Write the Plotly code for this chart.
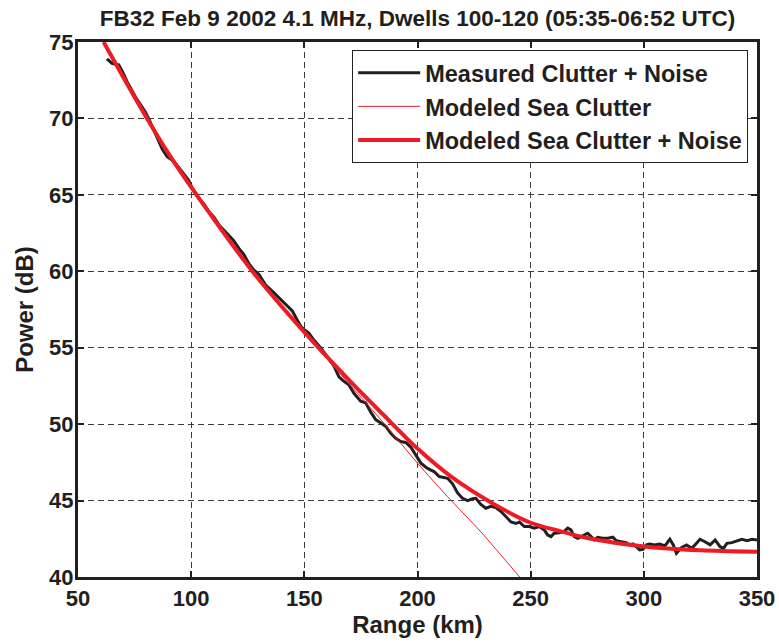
import plotly.graph_objects as go

# Measured clutter + noise power (range in km, power in dB)
measured_range = [
    62.8, 65.0, 68.0, 69.5, 71.7, 73.5, 75.4, 77.6, 79.8, 81.5,
    83.5, 85.0, 87.2, 89.4, 92.3, 94.5, 96.7, 98.9, 100.4, 101.9,
    103.4, 105.6, 107.8, 110.0, 112.2, 114.4, 116.6, 118.8, 121.1, 123.3,
    125.5, 127.5, 129.9, 132.9, 135.8, 138.8, 141.7, 144.7, 146.9, 148.4,
    149.8, 152.0, 154.2, 157.2, 160.2, 163.1, 165.3, 167.5, 169.7, 172.0,
    174.9, 177.1, 179.3, 181.5, 183.8, 186.0, 188.2, 190.4, 192.6, 194.8,
    197.0, 199.2, 201.5, 204.4, 207.3, 209.6, 213.3, 215.5, 217.7, 219.9,
    222.1, 224.3, 225.8, 228.0, 230.2, 232.4, 234.6, 236.9, 239.1, 241.3,
    243.5, 245.0, 247.2, 249.4, 251.6, 253.8, 256.0, 257.5, 259.0, 260.4,
    262.7, 264.9, 266.4, 267.8, 269.3, 270.8, 272.3, 275.2, 276.7, 278.1,
    279.6, 281.8, 284.1, 286.3, 287.8, 290.0, 292.2, 293.7, 295.2, 296.7,
    298.1, 299.6, 301.1, 302.6, 304.8, 307.0, 309.3, 311.5, 313.0, 314.4,
    316.7, 318.9, 321.1, 322.6, 324.8, 327.0, 329.3, 331.5, 333.7, 335.2,
    336.7, 338.9, 341.1, 343.3, 345.6, 347.8, 350.0,
]
measured_power = [
    73.9, 73.6, 73.5, 73.1, 72.4, 71.9, 71.4, 70.9, 70.4, 69.9,
    69.2, 68.7, 68.0, 67.5, 67.2, 66.8, 66.4, 65.95, 65.45, 65.1,
    64.75, 64.4, 63.9, 63.55, 63.05, 62.7, 62.35, 62.0, 61.5, 61.1,
    60.5, 60.1, 59.8, 59.1, 58.7, 58.25, 57.8, 57.4, 56.8, 56.4,
    56.2, 55.96, 55.5, 55.0, 54.4, 53.8, 53.1, 52.8, 52.57, 52.0,
    51.5, 51.4, 50.8, 50.3, 50.07, 49.85, 49.4, 49.08, 48.86, 48.8,
    48.5, 48.0, 47.45, 47.1, 46.9, 46.57, 46.46, 46.1, 45.5, 45.15,
    45.0, 45.12, 45.15, 44.75, 44.5, 44.62, 44.55, 44.28, 43.95, 43.6,
    43.5, 43.6, 43.3, 43.3, 43.2, 43.3, 43.08, 42.75, 42.64, 42.86,
    42.9, 43.0, 43.2, 43.08, 42.64, 42.53, 42.64, 42.86, 42.64, 42.42,
    42.6, 42.53, 42.53, 42.6, 42.38, 42.31, 42.25, 42.1, 42.16, 41.98,
    41.77, 41.81, 42.1, 42.16, 42.1, 42.16, 42.03, 42.47, 42.1, 41.55,
    41.94, 42.1, 41.88, 42.1, 42.47, 42.31, 42.1, 42.42, 41.98, 41.88,
    42.2, 42.25, 42.38, 42.47, 42.38, 42.47, 42.42,
]

# Modeled sea clutter alone
sea_range = [61.3, 70, 80.5, 90, 100, 113, 126.5, 140, 155, 170,
             185.5, 200, 213.3, 228, 246]
sea_power = [75.0, 72.7, 70.0, 67.7, 65.5, 62.8, 60.1, 57.6, 55.1, 52.6,
             50.0, 47.45, 45.25, 42.95, 39.85]

# Modeled sea clutter + noise
total_range = [61.3, 70, 80.5, 90, 100, 113, 126.5, 140, 155, 170,
               185, 200, 215, 234, 250, 263, 275, 300, 325, 350]
total_power = [75.0, 72.7, 70.0, 67.7, 65.5, 62.8, 60.1, 57.7, 55.2, 52.85,
               50.6, 48.4, 46.55, 44.75, 43.55, 43.0, 42.55, 42.0, 41.75, 41.65]

x_ticks = [50, 100, 150, 200, 250, 300, 350]
y_ticks = [40, 45, 50, 55, 60, 65, 70, 75]

FONT = "Liberation Sans, Arial, Helvetica, sans-serif"
INK = "#231F20"
RED = "#ED1C24"

fig = go.Figure()
fig.add_trace(go.Scatter(
    x=measured_range, y=measured_power, mode="lines",
    name="Measured Clutter + Noise",
    line=dict(color=INK, width=3),
))
fig.add_trace(go.Scatter(
    x=sea_range, y=sea_power, mode="lines",
    name="Modeled Sea Clutter",
    line=dict(color=RED, width=1, shape="spline", smoothing=0.8),
))
fig.add_trace(go.Scatter(
    x=total_range, y=total_power, mode="lines",
    name="Modeled Sea Clutter + Noise",
    line=dict(color=RED, width=4, shape="spline", smoothing=0.8),
))

axis_common = dict(
    showline=True, linecolor=INK, linewidth=3, mirror="allticks",
    ticks="inside", ticklen=6, tickwidth=1.5, tickcolor=INK,
    showgrid=True, gridcolor="#3c3c3c", gridwidth=1, griddash="6px,4px",
    zeroline=False,
    tickfont=dict(family=FONT, size=22, color=INK, weight="bold"),
)

fig.update_xaxes(
    range=[50, 350], tickvals=x_ticks, ticktext=[str(v) for v in x_ticks],
    title=dict(text="Range (km)", standoff=6,
               font=dict(family=FONT, size=24, color=INK, weight="bold")),
    **axis_common,
)
fig.update_yaxes(
    range=[40, 75], tickvals=y_ticks, ticktext=[str(v) for v in y_ticks],
    ticklabelstandoff=-3,
    title=dict(text="Power (dB)", standoff=9,
               font=dict(family=FONT, size=24, color=INK, weight="bold")),
    **axis_common,
)

fig.update_layout(
    width=779, height=643,
    margin=dict(l=78, r=22, t=42, b=66, autoexpand=False),
    paper_bgcolor="white", plot_bgcolor="white",
    title=dict(
        text="FB32 Feb 9 2002 4.1 MHz, Dwells 100-120 (05:35-06:52 UTC)",
        x=0.5, xref="paper", xanchor="center",
        y=1 - 18 / 643, yref="container", yanchor="middle",
        font=dict(family=FONT, size=22.5, color=INK, weight="bold"),
    ),
    legend=dict(
        x=0.987, xanchor="right", y=0.985, yanchor="top",
        bgcolor="white", bordercolor=INK, borderwidth=1,
        font=dict(family=FONT, size=23.5, color=INK, weight="bold"),
        itemwidth=62,
    ),
    showlegend=True,
)

fig.write_html("out.html")
